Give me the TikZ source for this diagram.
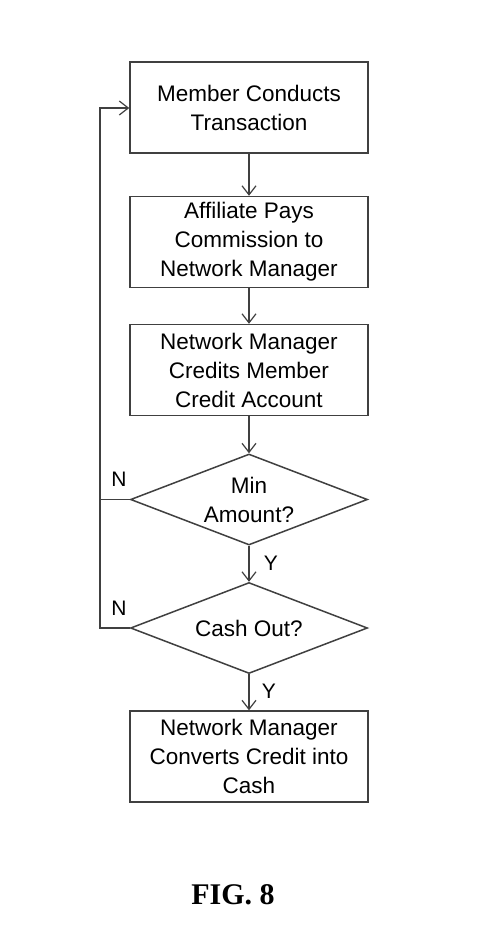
\documentclass[tikz,border=0pt]{standalone}
\usepackage{fontspec}
\setmainfont{Liberation Sans}
\newfontfamily\figfont{Liberation Serif}
\usetikzlibrary{shapes.geometric,arrows.meta}
\begin{document}
\begin{tikzpicture}[x=1pt,y=1pt,
  every node/.style={font=\fontsize{22.5}{29}\selectfont, text=black},
  boxnode/.style={draw=black!75, line width=1.5pt, minimum width=238pt, minimum height=91pt, align=center, inner sep=0pt},
  decnode/.style={draw=black!75, line width=1.5pt, diamond, aspect=2.6, minimum width=237pt, minimum height=91pt, align=center, inner sep=0pt},
  conn/.style={draw=black!75, line width=1.3pt, -{Straight Barb[length=9pt,width=14pt,line width=1.2pt]}},
  plain/.style={draw=black!75, line width=1.3pt},
  lbl/.style={font=\fontsize{21}{24}\selectfont}
]
\useasboundingbox (0,0) rectangle (500,-943);
\fill[white] (0,0) rectangle (500,-943);
\node[boxnode] (b1) at (249,-107.5) {Member Conducts\\Transaction};
\node[boxnode] (b2) at (249,-242) {Affiliate Pays\\Commission to\\Network Manager};
\node[boxnode] (b3) at (249,-370) {Network Manager\\Credits Member\\Credit Account};
\node[decnode] (d1) at (249,-499.5) {Min\\Amount?};
\node[decnode] (d2) at (249,-628) {Cash Out?};
\node[boxnode] (b4) at (249,-756.5) {Network Manager\\Converts Credit into\\Cash};
\coordinate (lx) at (100,-108);
\draw[conn] (b1) -- (b2);
\draw[conn] (b2) -- (b3);
\draw[conn] (b3) -- (d1);
\draw[conn] (d1) -- (d2);
\draw[conn] (d2) -- (b4);
\draw[plain] (d1.west) -- (d1.west -| lx);
\draw[conn] (d2.west) -- (d2.west -| lx) -- (lx) -- (b1.west |- lx);
\node[lbl] (n1) at (119,-479) {N};
\node[lbl] (n2) at (119,-608) {N};
\node[lbl] (y1) at (271,-563) {Y};
\node[lbl] (y2) at (269,-691) {Y};
\node[font=\figfont\bfseries\fontsize{30}{34}\selectfont, text=black] (fig) at (233,-895) {FIG. 8};
\end{tikzpicture}
\end{document}
